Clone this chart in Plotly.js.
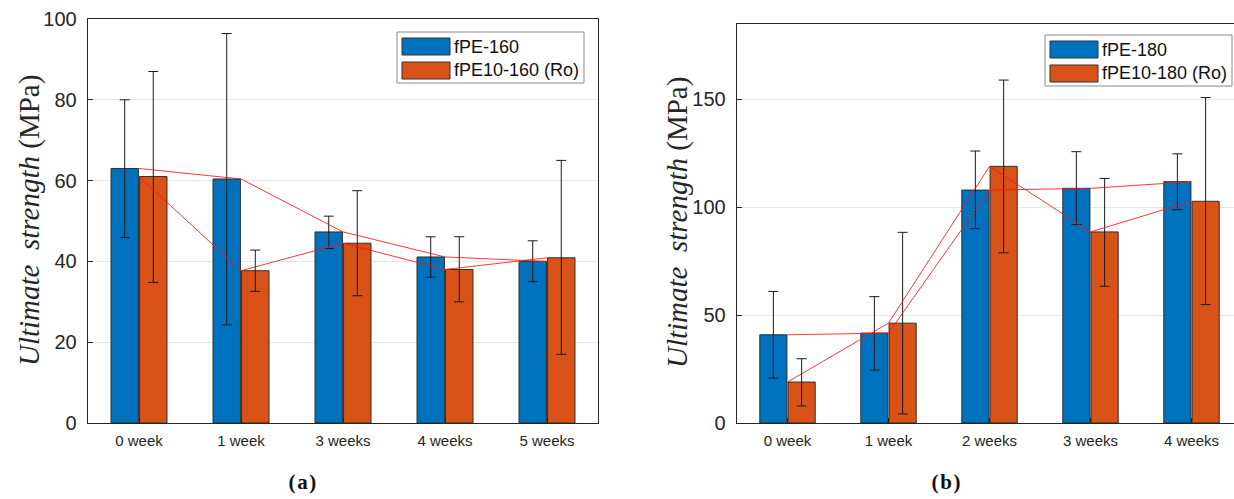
<!DOCTYPE html>
<html>
<head>
<meta charset="utf-8">
<script src="https://cdn.plot.ly/plotly-3.0.1.min.js"></script>
<style>
  html, body { margin: 0; padding: 0; background: #fff; overflow: hidden; }
  #chart { width: 1250px; height: 499px; }
  .annotation[data-index="6"] text, .annotation[data-index="7"] text { letter-spacing: 1.6px; }
</style>
</head>
<body>
<div id="chart"></div>
<script>
// ---------- data ----------
const catsA = ['0 week', '1 week', '3 weeks', '4 weeks', '5 weeks'];
const fpe160     = [63.0, 60.4, 47.3, 41.1, 40.0];
const fpe160Hi   = [80.0, 96.4, 51.2, 46.1, 45.1];
const fpe160Lo   = [45.9, 24.3, 43.2, 36.1, 35.0];
const fpe10_160   = [61.0, 37.7, 44.5, 38.0, 40.9];
const fpe10_160Hi = [87.0, 42.8, 57.5, 46.1, 65.0];
const fpe10_160Lo = [34.8, 32.6, 31.5, 30.0, 17.0];

const catsB = ['0 week', '1 week', '2 weeks', '3 weeks', '4 weeks'];
const fpe180     = [40.9, 41.7, 108.0, 108.8, 111.9];
const fpe180Hi   = [61.0, 58.6, 126.1, 125.8, 124.8];
const fpe180Lo   = [20.8, 24.5, 90.1, 92.0, 98.9];
const fpe10_180   = [19.0, 46.3, 119.0, 88.6, 102.8];
const fpe10_180Hi = [29.8, 88.4, 159.0, 113.4, 150.9];
const fpe10_180Lo = [7.9, 4.2, 78.9, 63.4, 54.9];

const namesA = ['fPE-160', 'fPE10-160 (Ro)'];
const namesB = ['fPE-180', 'fPE10-180 (Ro)'];

// ---------- styles ----------
const W = 1250, H = 499;
const BLUE = '#0072BD', ORANGE = '#D95319';
const AX = '#262626';
const px = x => x / W;
const py = y => 1 - y / H;

function barTrace(x, y, hi, lo, color, name, xa, ya) {
  return {
    type: 'bar', x: x, y: y, name: name, xaxis: xa, yaxis: ya,
    marker: { color: color, line: { color: 'rgba(40,40,40,0.95)', width: 1 } },
    error_y: {
      type: 'data', symmetric: false,
      array: hi.map((v, i) => v - y[i]),
      arrayminus: lo.map((v, i) => y[i] - v),
      color: '#1a1a1a', thickness: 1, width: 5
    },
    showlegend: false, hoverinfo: 'skip'
  };
}
function lineTrace(x, y, xa, ya) {
  return {
    type: 'scatter', mode: 'lines', x: x, y: y, xaxis: xa, yaxis: ya,
    line: { color: 'rgba(255,20,20,0.85)', width: 1 },
    showlegend: false, hoverinfo: 'skip'
  };
}

const data = [
  barTrace(catsA, fpe160, fpe160Hi, fpe160Lo, BLUE, namesA[0], 'x', 'y'),
  barTrace(catsA, fpe10_160, fpe10_160Hi, fpe10_160Lo, ORANGE, namesA[1], 'x', 'y'),
  barTrace(catsB, fpe180, fpe180Hi, fpe180Lo, BLUE, namesB[0], 'x2', 'y2'),
  barTrace(catsB, fpe10_180, fpe10_180Hi, fpe10_180Lo, ORANGE, namesB[1], 'x2', 'y2'),
  lineTrace(catsA, fpe160, 'x', 'y'),
  lineTrace(catsA, fpe10_160, 'x', 'y'),
  lineTrace(catsB, fpe180, 'x2', 'y2'),
  lineTrace(catsB, fpe10_180, 'x2', 'y2')
];

const xBase = {
  showline: true, mirror: true, linecolor: AX, linewidth: 1.3,
  ticks: 'inside', ticklen: 5, tickcolor: AX, showgrid: false, zeroline: false,
  tickfont: { family: 'Liberation Sans, Arial, sans-serif', size: 15, color: AX },
  ticklabelstandoff: 4, range: [-0.5, 4.5], fixedrange: true
};
const yBase = {
  showline: true, mirror: true, linecolor: AX, linewidth: 1.3,
  ticks: 'inside', ticklen: 5, tickcolor: AX,
  showgrid: true, gridcolor: '#e6e6e6', gridwidth: 1, zeroline: false,
  tickfont: { family: 'Liberation Sans, Arial, sans-serif', size: 20, color: AX },
  ticklabelstandoff: 6, fixedrange: true
};

// legend drawn as a small box with swatches
function legendItems(x0, y0, names) {
  const shapes = [
    { type: 'rect', xref: 'paper', yref: 'paper', x0: px(x0), x1: px(x0 + 187), y0: py(y0), y1: py(y0 + 51),
      line: { color: '#8a8a8a', width: 1 }, fillcolor: '#ffffff', layer: 'above' },
    { type: 'rect', xref: 'paper', yref: 'paper', x0: px(x0 + 5), x1: px(x0 + 53), y0: py(y0 + 6), y1: py(y0 + 23),
      line: { color: '#333', width: 1 }, fillcolor: BLUE, layer: 'above' },
    { type: 'rect', xref: 'paper', yref: 'paper', x0: px(x0 + 5), x1: px(x0 + 53), y0: py(y0 + 30), y1: py(y0 + 47),
      line: { color: '#333', width: 1 }, fillcolor: ORANGE, layer: 'above' }
  ];
  const anns = names.map((n, i) => ({
    xref: 'paper', yref: 'paper', x: px(x0 + 55), y: py(y0 + 14.5 + 24 * i),
    xanchor: 'left', yanchor: 'middle', showarrow: false, text: n,
    font: { family: 'Liberation Sans, Arial, sans-serif', size: 18, color: '#111' }
  }));
  return { shapes, anns };
}
const legA = legendItems(397, 32, namesA);
const legB = legendItems(1045, 35, namesB);

const titleText = '<i>Ultimate  strength</i> (MPa)';
const titleFont = { family: 'Liberation Serif, DejaVu Serif, serif', size: 29, color: AX };

const layout = {
  width: W, height: H,
  margin: { l: 0, r: 0, t: 0, b: 0 },
  paper_bgcolor: '#ffffff', plot_bgcolor: '#ffffff',
  barmode: 'group', bargap: 0.44, bargroupgap: 0.04,
  showlegend: false,
  xaxis: Object.assign({}, xBase, { domain: [px(88), px(598)], anchor: 'y' }),
  yaxis: Object.assign({}, yBase, { domain: [py(423), py(19)], range: [0, 100], dtick: 20, anchor: 'x' }),
  xaxis2: Object.assign({}, xBase, { domain: [px(737), px(1242)], anchor: 'y2' }),
  yaxis2: Object.assign({}, yBase, { domain: [py(423), py(24)], range: [0, 185], dtick: 50, anchor: 'x2' }),
  shapes: legA.shapes.concat(legB.shapes),
  annotations: legA.anns.concat(legB.anns).concat([
    { xref: 'paper', yref: 'paper', x: px(29), y: py(221), textangle: -90, showarrow: false,
      xanchor: 'center', yanchor: 'middle', text: titleText, font: titleFont },
    { xref: 'paper', yref: 'paper', x: px(677), y: py(223), textangle: -90, showarrow: false,
      xanchor: 'center', yanchor: 'middle', text: titleText, font: titleFont },
    { xref: 'paper', yref: 'paper', x: px(303), y: py(482), showarrow: false,
      xanchor: 'center', yanchor: 'middle', text: '<b>(a)</b>',
      font: { family: 'Liberation Serif, DejaVu Serif, serif', size: 21, color: '#111' } },
    { xref: 'paper', yref: 'paper', x: px(947), y: py(482), showarrow: false,
      xanchor: 'center', yanchor: 'middle', text: '<b>(b)</b>',
      font: { family: 'Liberation Serif, DejaVu Serif, serif', size: 21, color: '#111' } }
  ])
};

Plotly.newPlot('chart', data, layout, { displayModeBar: false, staticPlot: true });
</script>
</body>
</html>
